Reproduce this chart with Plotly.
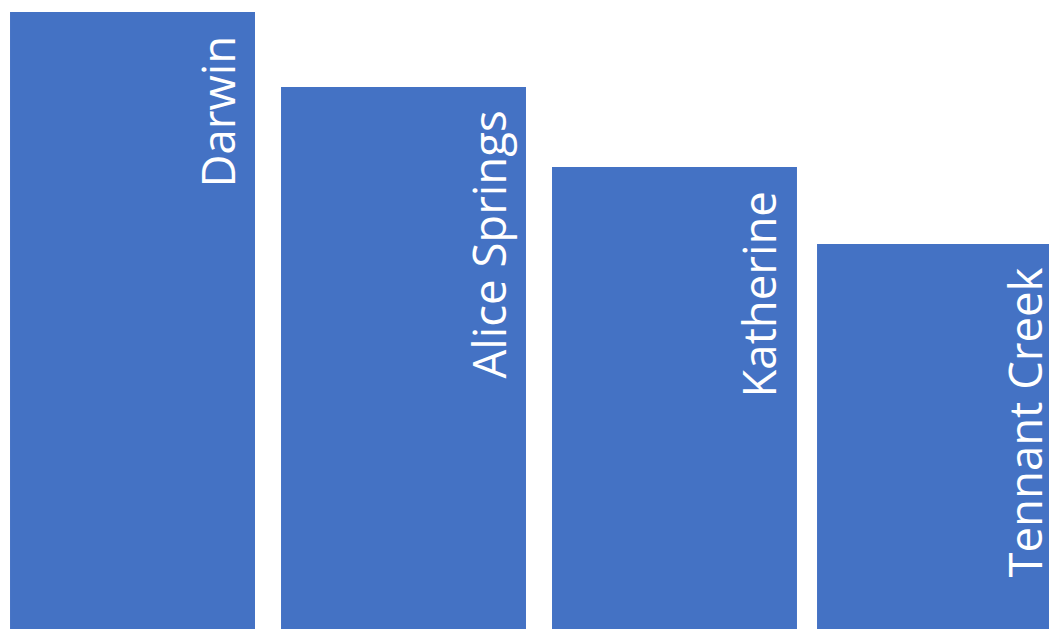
import plotly.graph_objects as go

towns = ["Darwin", "Alice Springs", "Katherine", "Tennant Creek"]
values = [617, 542, 462, 385]

BAR = "#4472C4"
STEP = 271.0  # px per category
offsets = [-0.452, -0.452, -0.452, -0.474]

fig = go.Figure()
fig.add_trace(go.Bar(
    x=towns, y=values,
    marker=dict(color=BAR, line=dict(width=0)),
    width=0.904, offset=offsets,
    hoverinfo="skip",
))

for t, v, o in zip(towns, values, offsets):
    fig.add_annotation(
        x=t, y=v, xref="x", yref="y",
        text=t, textangle=-90, showarrow=False,
        xanchor="right", yanchor="top",
        xshift=117 + (o + 0.452) * STEP, yshift=-22,
        font=dict(family="Open Sans", size=45.5, color="white"),
    )

fig.update_layout(
    width=1049, height=629,
    margin=dict(l=0, r=0, t=0, b=0),
    paper_bgcolor="white", plot_bgcolor="white",
    showlegend=False,
    xaxis=dict(range=[-0.489, 3.382], visible=False, fixedrange=True),
    yaxis=dict(range=[0, 629], visible=False, fixedrange=True),
)

fig.write_html("out.html", config={"displayModeBar": False})
